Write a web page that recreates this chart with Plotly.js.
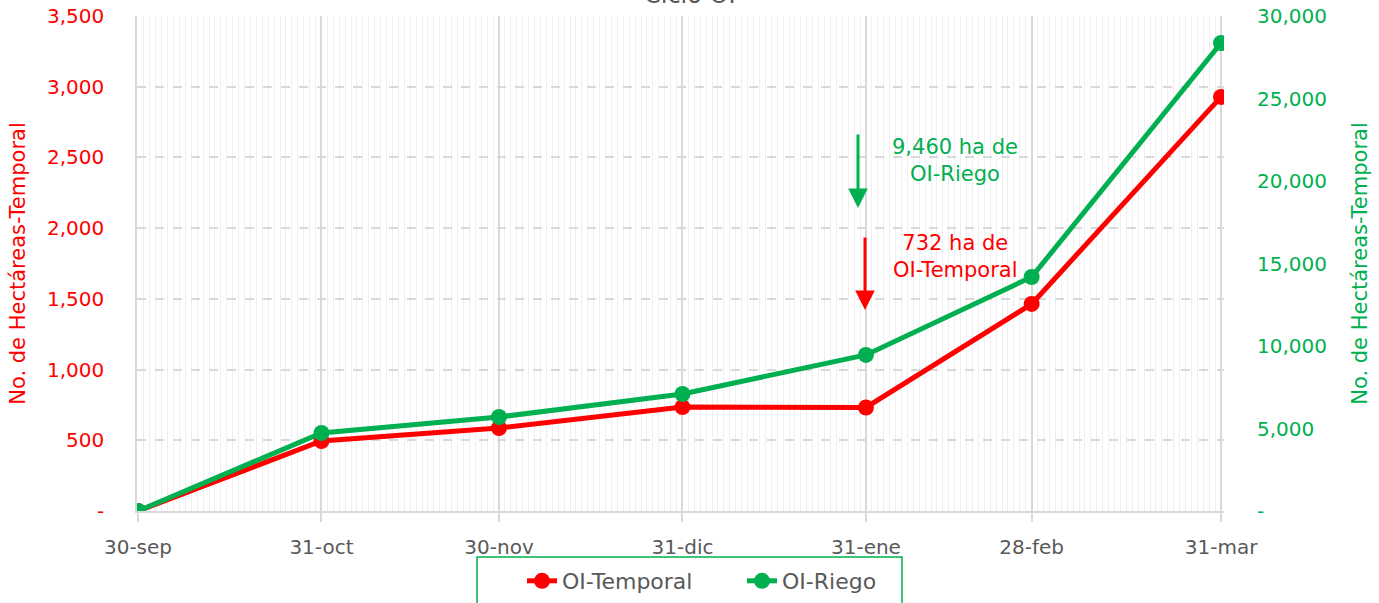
<!DOCTYPE html>
<html><head><meta charset="utf-8">
<script src="https://cdn.plot.ly/plotly-3.0.1.min.js"></script>
<style>html,body{margin:0;padding:0;background:#fff}#c{width:1379px;height:603px}</style>
</head><body><div id="c"></div>
<script>
const dates = ['2023-09-30','2023-10-31','2023-11-30','2023-12-31','2024-01-31','2024-02-28','2024-03-31'];
const tickLabels = ['30-sep','31-oct','30-nov','31-dic','31-ene','28-feb','31-mar'];
const temporal = [0, 495, 587, 735, 732, 1464, 2928];
const riego = [0, 4727, 5697, 7091, 9460, 14182, 28364];
const leftTicks = [0,500,1000,1500,2000,2500,3000,3500];
const leftTickText = ['-','500','1,000','1,500','2,000','2,500','3,000','3,500'];
const rightTicks = [0,5000,10000,15000,20000,25000,30000];
const rightTickText = ['-','5,000','10,000','15,000','20,000','25,000','30,000'];

const RED = '#FF0000', GREEN = '#00B050', GRAY = '#595959';
const FONT = 'DejaVu Sans';

const traces = [
  {x: dates, y: temporal, name: 'OI-Temporal', type: 'scatter', mode: 'lines+markers',
   line: {color: RED, width: 5}, marker: {color: RED, size: 16}, yaxis: 'y'},
  {x: dates, y: riego, name: 'OI-Riego', type: 'scatter', mode: 'lines+markers',
   line: {color: GREEN, width: 5}, marker: {color: GREEN, size: 16}, yaxis: 'y2'}
];

const layout = {
  width: 1379, height: 603,
  margin: {l: 137, r: 155, t: 16, b: 92},
  paper_bgcolor: '#fff', plot_bgcolor: '#fff',
  font: {family: FONT, color: GRAY, size: 20},
  showlegend: true,
  legend: {orientation: 'h', xref: 'container', yref: 'container',
    x: 522/1379, xanchor: 'left', y: 1 - 560/603, yanchor: 'top',
    borderwidth: 0, font: {size: 22, color: GRAY}, entrywidth: 175, bgcolor: 'rgba(0,0,0,0)'},
  shapes: [
    {type: 'rect', xref: 'paper', yref: 'paper',
     x0: (477-137)/1087, x1: (902-137)/1087, y0: (511-557)/495, y1: (511-620)/495,
     line: {color: GREEN, width: 1.5}, fillcolor: 'rgba(0,0,0,0)', layer: 'below'}
  ],
  xaxis: {
    type: 'date', range: ['2023-09-29 20:00', '2024-03-31 12:00'], automargin: false,
    tickvals: dates, ticktext: tickLabels, tickfont: {size: 20, color: GRAY},
    showgrid: true, gridcolor: '#d9d9d9', gridwidth: 1.5,
    ticks: 'outside', ticklen: 9, tickcolor: '#d9d9d9', tickwidth: 1.5, ticklabelstandoff: 8,
    showline: true, linecolor: '#d9d9d9', linewidth: 1.5,
    minor: {dtick: 86400000, tick0: '2023-09-30', showgrid: true, gridcolor: '#efefef', gridwidth: 1},
    zeroline: false
  },
  yaxis: {
    range: [0, 3500], tickvals: leftTicks, ticktext: leftTickText, automargin: false,
    tickfont: {size: 20, color: RED},
    showgrid: true, gridcolor: '#d9d9d9', gridwidth: 1.5, griddash: 'dash',
    showline: true, linecolor: '#d9d9d9', linewidth: 1.5, zeroline: false,
    ticks: '', ticklabelstandoff: 27,
    title: {text: 'No. de Hectáreas-Temporal', font: {size: 21, color: RED}, standoff: 16}
  },
  yaxis2: {
    range: [0, 30000], overlaying: 'y', side: 'right', automargin: false,
    tickvals: rightTicks, ticktext: rightTickText,
    tickfont: {size: 20, color: GREEN}, showgrid: false, zeroline: false, showline: false,
    ticks: '', ticklabelstandoff: 32,
    title: {text: 'No. de Hectáreas-Temporal', font: {size: 21, color: GREEN}, standoff: 26}
  },
  annotations: [
    {text: 'Ciclo OI', xref: 'paper', yref: 'paper', x: (690-137)/1087, y: (511+5)/495, xanchor: 'center', yanchor: 'middle',
     showarrow: false, font: {size: 24, color: GRAY}},
    {text: '9,460 ha de<br>OI-Riego', xref: 'paper', yref: 'paper', x: (955-137)/1087, y: (511-160)/495, xanchor: 'center', yanchor: 'middle',
     showarrow: false, font: {size: 21, color: GREEN}},
    {text: '732 ha de<br>OI-Temporal', xref: 'paper', yref: 'paper', x: (955-137)/1087, y: (511-256)/495, xanchor: 'center', yanchor: 'middle',
     showarrow: false, font: {size: 21, color: RED}},
    {text: '', xref: 'paper', yref: 'paper', x: (858-137)/1087, y: (511-208)/495, axref: 'pixel', ayref: 'pixel', ax: 0, ay: -75,
     showarrow: true, arrowhead: 2, arrowsize: 1.3, arrowwidth: 3, arrowcolor: GREEN},
    {text: '', xref: 'paper', yref: 'paper', x: (865-137)/1087, y: (511-310)/495, axref: 'pixel', ayref: 'pixel', ax: 0, ay: -74,
     showarrow: true, arrowhead: 2, arrowsize: 1.3, arrowwidth: 3, arrowcolor: RED}
  ]
};
Plotly.newPlot('c', traces, layout, {displayModeBar: false});
</script></body></html>
